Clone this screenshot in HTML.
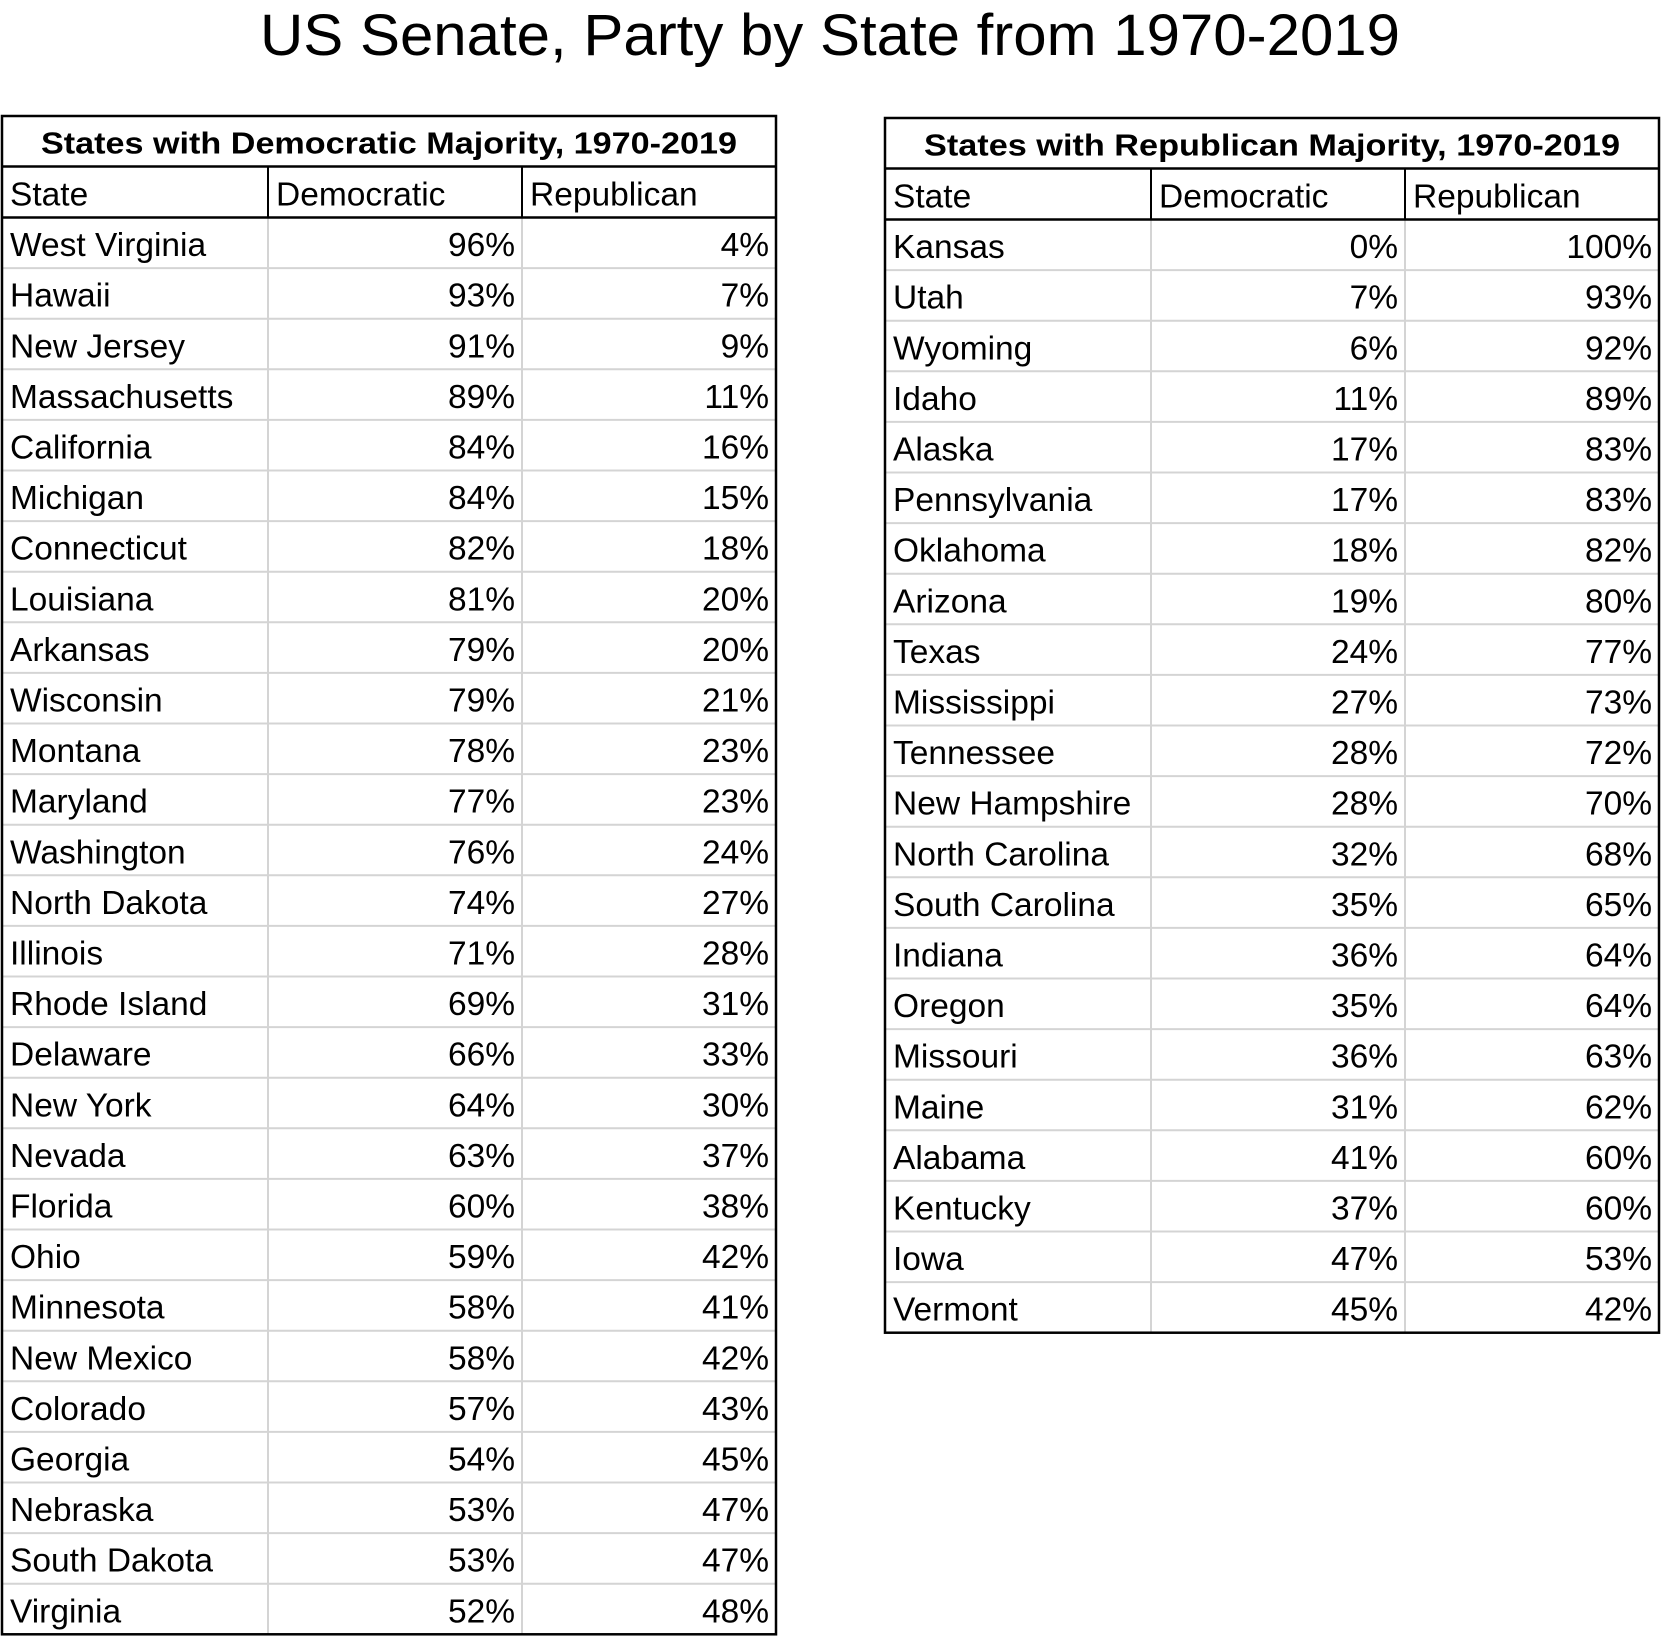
<!DOCTYPE html>
<html><head><meta charset="utf-8"><style>
html,body{margin:0;padding:0;background:#fff;}
svg{display:block;font-family:"Liberation Sans",sans-serif;}
</style></head><body>
<svg id="chart" width="1663" height="1639" viewBox="0 0 1663 1639" xmlns="http://www.w3.org/2000/svg">
<text x="830" y="55" text-anchor="middle" font-size="58" textLength="1140" lengthAdjust="spacingAndGlyphs">US Senate, Party by State from 1970-2019</text>
</svg>
<script>
const demStates=["West Virginia","Hawaii","New Jersey","Massachusetts","California","Michigan","Connecticut","Louisiana","Arkansas","Wisconsin","Montana","Maryland","Washington","North Dakota","Illinois","Rhode Island","Delaware","New York","Nevada","Florida","Ohio","Minnesota","New Mexico","Colorado","Georgia","Nebraska","South Dakota","Virginia"];
const demTableDem=[96,93,91,89,84,84,82,81,79,79,78,77,76,74,71,69,66,64,63,60,59,58,58,57,54,53,53,52];
const demTableRep=[4,7,9,11,16,15,18,20,20,21,23,23,24,27,28,31,33,30,37,38,42,41,42,43,45,47,47,48];
const repStates=["Kansas","Utah","Wyoming","Idaho","Alaska","Pennsylvania","Oklahoma","Arizona","Texas","Mississippi","Tennessee","New Hampshire","North Carolina","South Carolina","Indiana","Oregon","Missouri","Maine","Alabama","Kentucky","Iowa","Vermont"];
const repTableDem=[0,7,6,11,17,17,18,19,24,27,28,28,32,35,36,35,36,31,41,37,47,45];
const repTableRep=[100,93,92,89,83,83,82,80,77,73,72,70,68,65,64,64,63,62,60,60,53,42];
const headers=["State","Democratic","Republican"];
const svg=document.getElementById('chart');
const NS="http://www.w3.org/2000/svg";
const FS=33.5;
function mk(tag,attrs){const e=document.createElementNS(NS,tag);for(const k in attrs)e.setAttribute(k,attrs[k]);svg.appendChild(e);return e;}
function table(prefix,title,x0,x1,x2,x3,top,names,dem,rep){
  const titleB=top+50.5, headB=titleB+51, rh=50.6;
  const bottom=headB+names.length*rh;
  for(let i=1;i<names.length;i++){
    const y=headB+i*rh;
    const l=mk('line',{x1:x0,x2:x3,y1:y,y2:y,stroke:'#d4d4d4','stroke-width':2});
    
    
  }
  [x1,x2].forEach(x=>{
    const l=mk('line',{x1:x,x2:x,y1:headB,y2:bottom,stroke:'#d4d4d4','stroke-width':2});
    
    
    const h=mk('line',{x1:x,x2:x,y1:titleB,y2:headB,stroke:'#000','stroke-width':2});
    
    
  });
  [titleB,headB].forEach(y=>{
    const l=mk('line',{x1:x0,x2:x3,y1:y,y2:y,stroke:'#000','stroke-width':2.5});
    
    
  });
  const r=mk('rect',{x:x0,y:top,width:x3-x0,height:bottom-top,fill:'none',stroke:'#000','stroke-width':2.5});
  
  
  const t=mk('text',{x:(x0+x3)/2,y:titleB-13,'text-anchor':'middle','font-size':31,'font-weight':'bold',textLength:x3-x0-78,lengthAdjust:'spacingAndGlyphs'});
  t.textContent=title;
  
  
  [x0,x1,x2].forEach((x,i)=>{
    const h=mk('text',{x:x+8,y:headB-12,'font-size':FS});
    h.textContent=headers[i];
    
    
  });
  names.forEach((n,i)=>{
    const yb=headB+(i+1)*rh-12;
    const a=mk('text',{x:x0+8,y:yb,'font-size':FS});
    a.textContent=n;
    
    
    const b=mk('text',{x:x2-7,y:yb,'font-size':FS,'text-anchor':'end'});
    b.textContent=dem[i]+'%';
    
    
    const c=mk('text',{x:x3-7,y:yb,'font-size':FS,'text-anchor':'end'});
    c.textContent=rep[i]+'%';
    
    
  });
}
table('dem-table','States with Democratic Majority, 1970-2019',2,268,522,776,116,demStates,demTableDem,demTableRep);
table('rep-table','States with Republican Majority, 1970-2019',885,1151,1405,1659,118,repStates,repTableDem,repTableRep);
</script>
</body></html>
